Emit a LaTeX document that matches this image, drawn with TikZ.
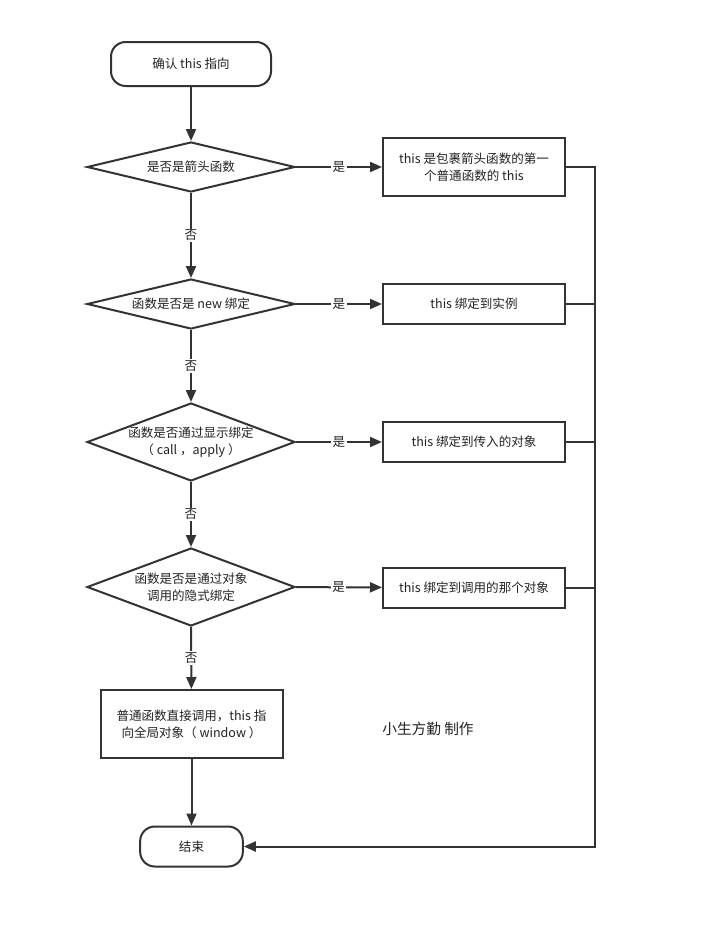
\documentclass[tikz,border=0pt]{standalone}
\usepackage{fontspec}
\newfontfamily\cjk{Noto Sans CJK SC}
\usepackage{xcolor}
\definecolor{line3}{RGB}{51,51,51}
\definecolor{text3}{RGB}{34,34,34}
\usepackage{tikz}
\usetikzlibrary{arrows.meta, shapes.geometric}

\begin{document}
\begin{tikzpicture}[x=0.75pt, y=-0.75pt,
    >={Triangle[length=9pt, width=7.5pt]},
    every node/.style={font=\cjk\fontsize{9.4}{13}\selectfont, text=text3},
    terminal/.style={draw=line3, line width=1.5pt, rectangle, rounded corners=11pt,
        minimum width=120pt, minimum height=33pt},
    decision/.style={draw=line3, line width=1.5pt, diamond, inner sep=0pt,
        minimum width=156pt, minimum height=#1},
    decision/.default=37.5pt,
    process/.style={draw=line3, line width=1.5pt, rectangle, align=center,
        minimum width=136.5pt, minimum height=#1},
    process/.default=30pt,
    flow/.style={line3, line width=1.5pt},
    yesno/.style={fill=white, inner sep=1pt}]

\useasboundingbox (0,0) rectangle (702,928);

% Main column
\node[terminal] (start) at (191,64) {确认 this 指向};
\node[decision, label={[align=center]center:是否是箭头函数}] (d1) at (191,167) {};
\node[decision, label={[align=center]center:函数是否是 new 绑定}] (d2) at (191,304) {};
\node[decision=58.5pt, label={[align=center]center:函数是否通过显示绑定\\（ call ，apply ）}] (d3) at (191,442) {};
\node[decision=58.5pt, label={[align=center]center:函数是否是通过对象\\调用的隐式绑定}] (d4) at (191,587) {};
\node[process=51pt] (dflt) at (191.5,724) {普通函数直接调用，this 指\\向全局对象（ window ）};
\node[terminal, minimum width=77pt, minimum height=30pt] (stop) at (191.5,846.5) {结束};

% Results on the right
\node[process=43.5pt] (r1) at (474,167) {this 是包裹箭头函数的第一\\个普通函数的 this};
\node[process] (r2) at (474,304) {this 绑定到实例};
\node[process] (r3) at (474,442) {this 绑定到传入的对象};
\node[process] (r4) at (474,587.5) {this 绑定到调用的那个对象};

% Signature
\node[font=\cjk\fontsize{11}{13}\selectfont] (sig) at (428,729) {小生方勤 制作};

% Arrows down the column
\draw[flow, ->] (start) -- (d1);
\draw[flow, ->] (d1) -- node[yesno] {否} (d2);
\draw[flow, ->] (d2) -- node[yesno] {否} (d3);
\draw[flow, ->] (d3) -- node[yesno] {否} (d4);
\draw[flow, ->] (d4) -- node[yesno] {否} (dflt);
\draw[flow, ->] (dflt) -- (stop);

% Yes branches
\draw[flow, ->] (d1) -- node[yesno] {是} (r1);
\draw[flow, ->] (d2) -- node[yesno] {是} (r2);
\draw[flow, ->] (d3) -- node[yesno] {是} (r3);
\draw[flow, ->] (d4) -- node[yesno] {是} (r4);

% Rail back to the end
\coordinate (rail) at (595,167);
\draw[flow] (r2.east) -- (r2.east -| rail);
\draw[flow] (r3.east) -- (r3.east -| rail);
\draw[flow] (r4.east) -- (r4.east -| rail);
\draw[flow, ->] (r1.east) -- (rail) |- (stop.east);

\end{tikzpicture}
\end{document}
